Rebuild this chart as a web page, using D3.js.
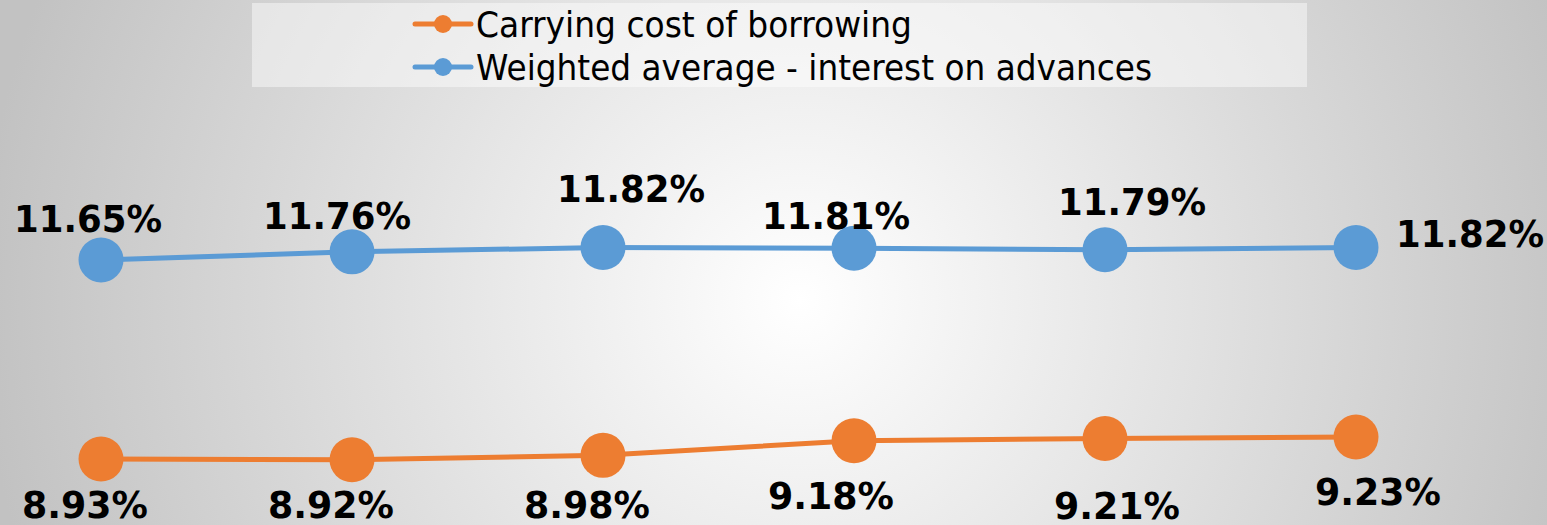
<!DOCTYPE html>
<html>
<head>
<meta charset="utf-8">
<script src="https://cdn.jsdelivr.net/npm/d3@7"></script>
<style>
  html, body { margin: 0; padding: 0; overflow: hidden; }
  svg { display: block; }
</style>
</head>
<body>
<div id="chart"></div>
<script>
// chart data
var periods = ['P1', 'P2', 'P3', 'P4', 'P5', 'P6'];
var carryingCost = [8.93, 8.92, 8.98, 9.18, 9.21, 9.23];
var weightedAvg = [11.65, 11.76, 11.82, 11.81, 11.79, 11.82];
var seriesNames = ['Carrying cost of borrowing', 'Weighted average - interest on advances'];
var seriesColors = ['#ed7d31', '#5b9bd5'];

// hand placed label nudges (dx from point, baseline y offset from point)
var blueLabelShift = [[-13, -28], [-15, -23], [28, -45], [-18, -19], [27, -35], [114, 0]];
var orangeLabelShift = [[-16, 59], [-21, 58], [-16, 63], [-23, 68], [12, 80], [22, 68]];

var width = 1547, height = 525;

var svg = d3.select('#chart').append('svg')
  .attr('width', width)
  .attr('height', height);

// background gradient
var defs = svg.append('defs');
var grad = defs.append('radialGradient')
  .attr('id', 'bg')
  .attr('gradientUnits', 'userSpaceOnUse')
  .attr('cx', 800).attr('cy', 300).attr('r', 820);
grad.append('stop').attr('offset', '0%').attr('stop-color', '#ffffff');
grad.append('stop').attr('offset', '100%').attr('stop-color', '#c2c2c2');

svg.append('rect')
  .attr('width', width)
  .attr('height', height)
  .style('fill', 'url(#bg)');

//scales
var x = d3.scalePoint()
  .domain(periods)
  .range([101, 1356]);

var y = d3.scaleLinear()
  .domain([8.5, 12])
  .range([490.5, 234.3]);

var line = d3.line()
  .x(function(d, i) { return x(periods[i]); })
  .y(function(d) { return y(d); });

function drawSeries(values, color, shifts, textLen) {
  var g = svg.append('g');
  g.append('path')
    .datum(values)
    .attr('d', line)
    .style('fill', 'none')
    .style('stroke', color)
    .style('stroke-width', 5);
  g.selectAll('circle')
    .data(values)
    .enter().append('circle')
    .attr('cx', function(d, i) { return x(periods[i]); })
    .attr('cy', function(d) { return y(d); })
    .attr('r', 22.5)
    .style('fill', color);
  g.selectAll('text')
    .data(values)
    .enter().append('text')
    .attr('x', function(d, i) { return x(periods[i]) + shifts[i][0]; })
    .attr('y', function(d, i) { return y(d) + shifts[i][1]; })
    .attr('text-anchor', 'middle')
    .attr('textLength', textLen)
    .attr('lengthAdjust', 'spacingAndGlyphs')
    .style('font-family', 'DejaVu Sans')
    .style('font-weight', 'bold')
    .style('font-size', '37px')
    .style('fill', '#000')
    .text(function(d) { return d.toFixed(2) + '%'; });
}

drawSeries(weightedAvg, seriesColors[1], blueLabelShift, 148);
drawSeries(carryingCost, seriesColors[0], orangeLabelShift, 126);

// legend
svg.append('rect')
  .attr('x', 252).attr('y', 3)
  .attr('width', 1055).attr('height', 84)
  .style('fill', '#ffffff')
  .style('fill-opacity', 0.45);

var legendWidths = [436, 676];
var legend = svg.selectAll('.legend')
  .data(seriesNames)
  .enter().append('g')
  .attr('class', 'legend')
  .attr('transform', function(d, i) { return 'translate(415,' + (24 + i * 43) + ')'; });

legend.append('line')
  .attr('x1', 0).attr('x2', 56)
  .style('stroke', function(d, i) { return seriesColors[i]; })
  .style('stroke-width', 5)
  .style('stroke-linecap', 'round');
legend.append('circle')
  .attr('cx', 28).attr('r', 9)
  .style('fill', function(d, i) { return seriesColors[i]; });
legend.append('text')
  .attr('x', 61)
  .attr('y', 13)
  .attr('textLength', function(d, i) { return legendWidths[i]; })
  .attr('lengthAdjust', 'spacingAndGlyphs')
  .style('font-family', 'DejaVu Sans')
  .style('font-size', '36px')
  .style('fill', '#000')
  .text(function(d) { return d; });
</script>
</body>
</html>
